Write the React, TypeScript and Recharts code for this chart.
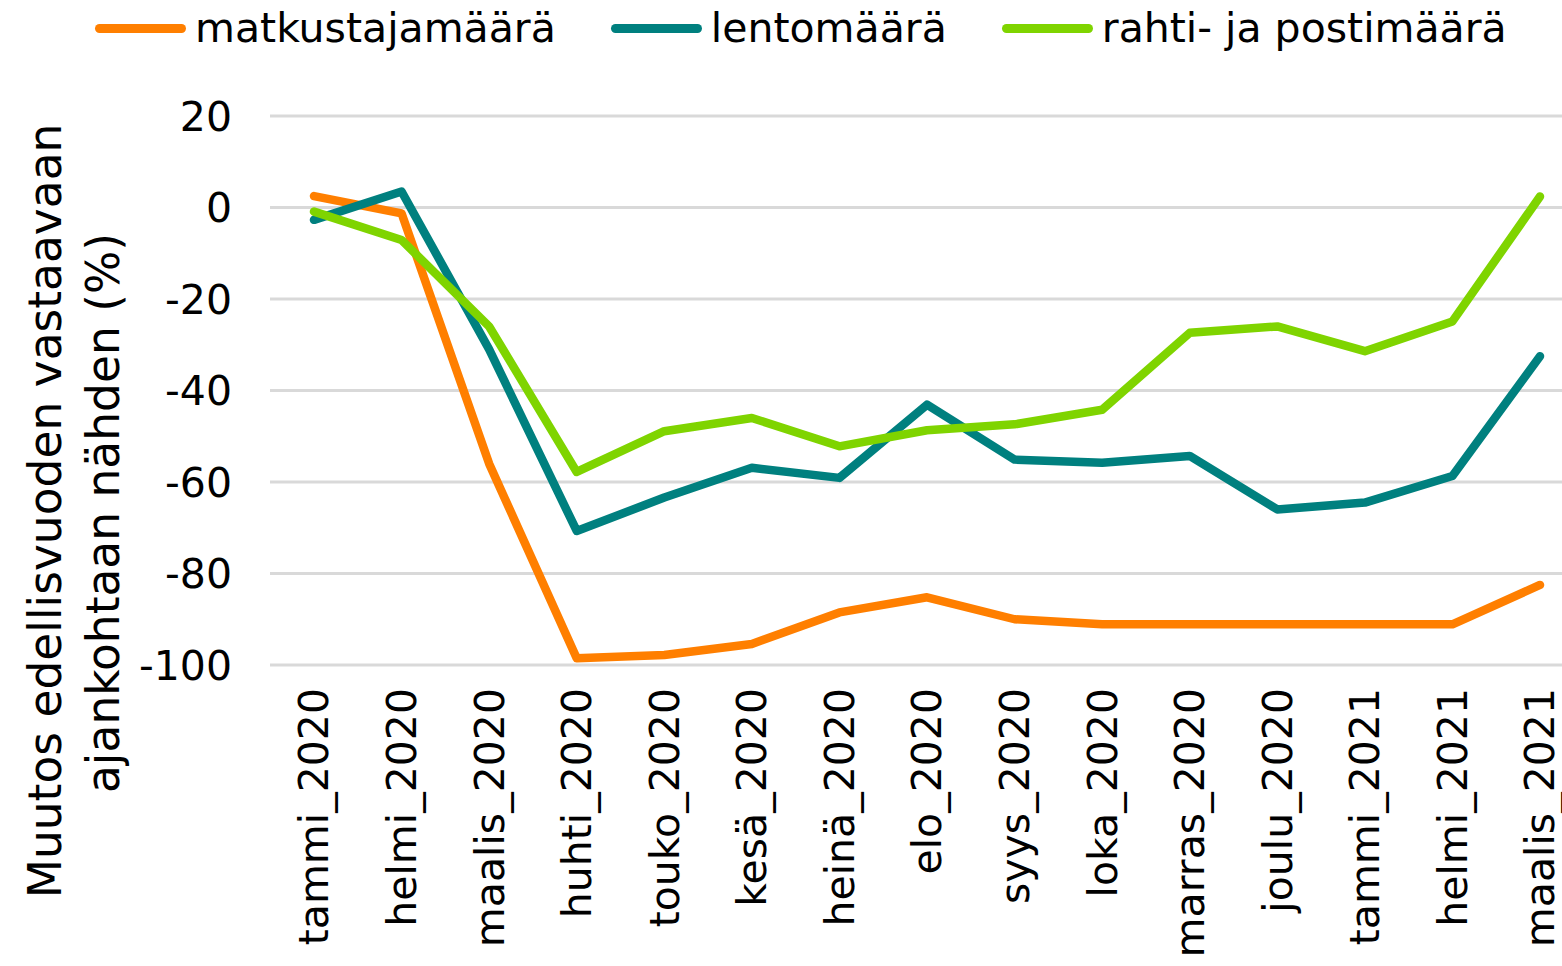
import React from "react";
import {
  LineChart,
  Line,
  XAxis,
  YAxis,
  CartesianGrid,
  Legend,
} from "recharts";

const months = [
  "tammi_2020",
  "helmi_2020",
  "maalis_2020",
  "huhti_2020",
  "touko_2020",
  "kesä_2020",
  "heinä_2020",
  "elo_2020",
  "syys_2020",
  "loka_2020",
  "marras_2020",
  "joulu_2020",
  "tammi_2021",
  "helmi_2021",
  "maalis_2021",
];

// muutos edellisvuoden vastaavaan ajankohtaan (%)
const matkustajamaara = [2.5, -1.3, -56, -98.5, -97.8, -95.4, -88.5, -85.2, -90, -91.1, -91.1, -91.1, -91.1, -91.1, -82.5];
const lentomaara = [-2.7, 3.5, -31, -70.7, -63.4, -56.9, -59.1, -43.1, -55.1, -55.8, -54.3, -66, -64.5, -58.7, -32.5];
const rahtimaara = [-0.9, -7.1, -26, -57.8, -48.9, -46, -52.2, -48.7, -47.4, -44.2, -27.4, -26, -31.4, -24.9, 2.4];

const yTicks = [20, 0, -20, -40, -60, -80, -100];

const seriesInfo = [
  { key: "matkustajamaara", name: "matkustajamäärä", color: "#FF7F00" },
  { key: "lentomaara", name: "lentomäärä", color: "#00807F" },
  { key: "rahtimaara", name: "rahti- ja postimäärä", color: "#7FD400" },
];

const data = months.map((m, i) => ({
  kk: m,
  matkustajamaara: matkustajamaara[i],
  lentomaara: lentomaara[i],
  rahtimaara: rahtimaara[i],
}));

const FONT = "'DejaVu Sans', Verdana, sans-serif";

function XTick(props: any) {
  const { x, y, payload } = props;
  return (
    <text
      transform={`translate(${x},${y}) rotate(-90)`}
      textAnchor="end"
      dy="0.35em"
      fontSize={41}
      fontFamily={FONT}
      fill="#000"
    >
      {payload.value}
    </text>
  );
}

function LegendBox() {
  return (
    <div style={{ display: "flex", alignItems: "center", paddingLeft: 95, height: 56, gap: 55 }}>
      {seriesInfo.map((s) => (
        <div key={s.key} style={{ display: "flex", alignItems: "center" }}>
          <div style={{ width: 91, height: 9, borderRadius: 5, background: s.color, marginRight: 9 }} />
          <span style={{ fontFamily: FONT, fontSize: 41, color: "#000", lineHeight: "56px" }}>{s.name}</span>
        </div>
      ))}
    </div>
  );
}

function YTitle() {
  return (
    <g fontFamily={FONT} fontSize={45.5} fill="#000">
      <text transform="translate(61,511) rotate(-90)" textAnchor="middle">
        Muutos edellisvuoden vastaavaan
      </text>
      <text transform="translate(119,513) rotate(-90)" textAnchor="middle">
        ajankohtaan nähden (%)
      </text>
    </g>
  );
}

export default function App() {
  return (
    <div
      style={{
        position: "fixed",
        left: 0,
        top: 0,
        width: 1562,
        height: 966,
        overflow: "hidden",
        background: "#fff",
      }}
    >
      <LineChart width={1600} height={966} data={data} margin={{ top: 60, right: 16, left: 0, bottom: 0 }}>
        <CartesianGrid vertical={false} stroke="#D9D9D9" strokeWidth={3} />
        <XAxis
          dataKey="kk"
          interval={0}
          height={301}
          padding={{ left: 44, right: 44 }}
          axisLine={false}
          tickLine={false}
          tickSize={0}
          tickMargin={23}
          tick={<XTick />}
        />
        <YAxis
          domain={[-100, 20]}
          ticks={yTicks}
          width={270}
          axisLine={false}
          tickLine={false}
          tickSize={0}
          tickMargin={38}
          tick={{ fill: "#000", fontSize: 41, fontFamily: FONT }}
          label={{ content: () => <YTitle /> }}
        />
        <Legend verticalAlign="top" height={56} wrapperStyle={{ top: 0, left: 0 }} content={() => <LegendBox />} />
        {seriesInfo.map((s) => (
          <Line
            key={s.key}
            dataKey={s.key}
            name={s.name}
            stroke={s.color}
            strokeWidth={8.5}
            strokeLinejoin="round"
            strokeLinecap="round"
            dot={false}
            activeDot={false}
            isAnimationActive={false}
          />
        ))}
      </LineChart>
    </div>
  );
}
